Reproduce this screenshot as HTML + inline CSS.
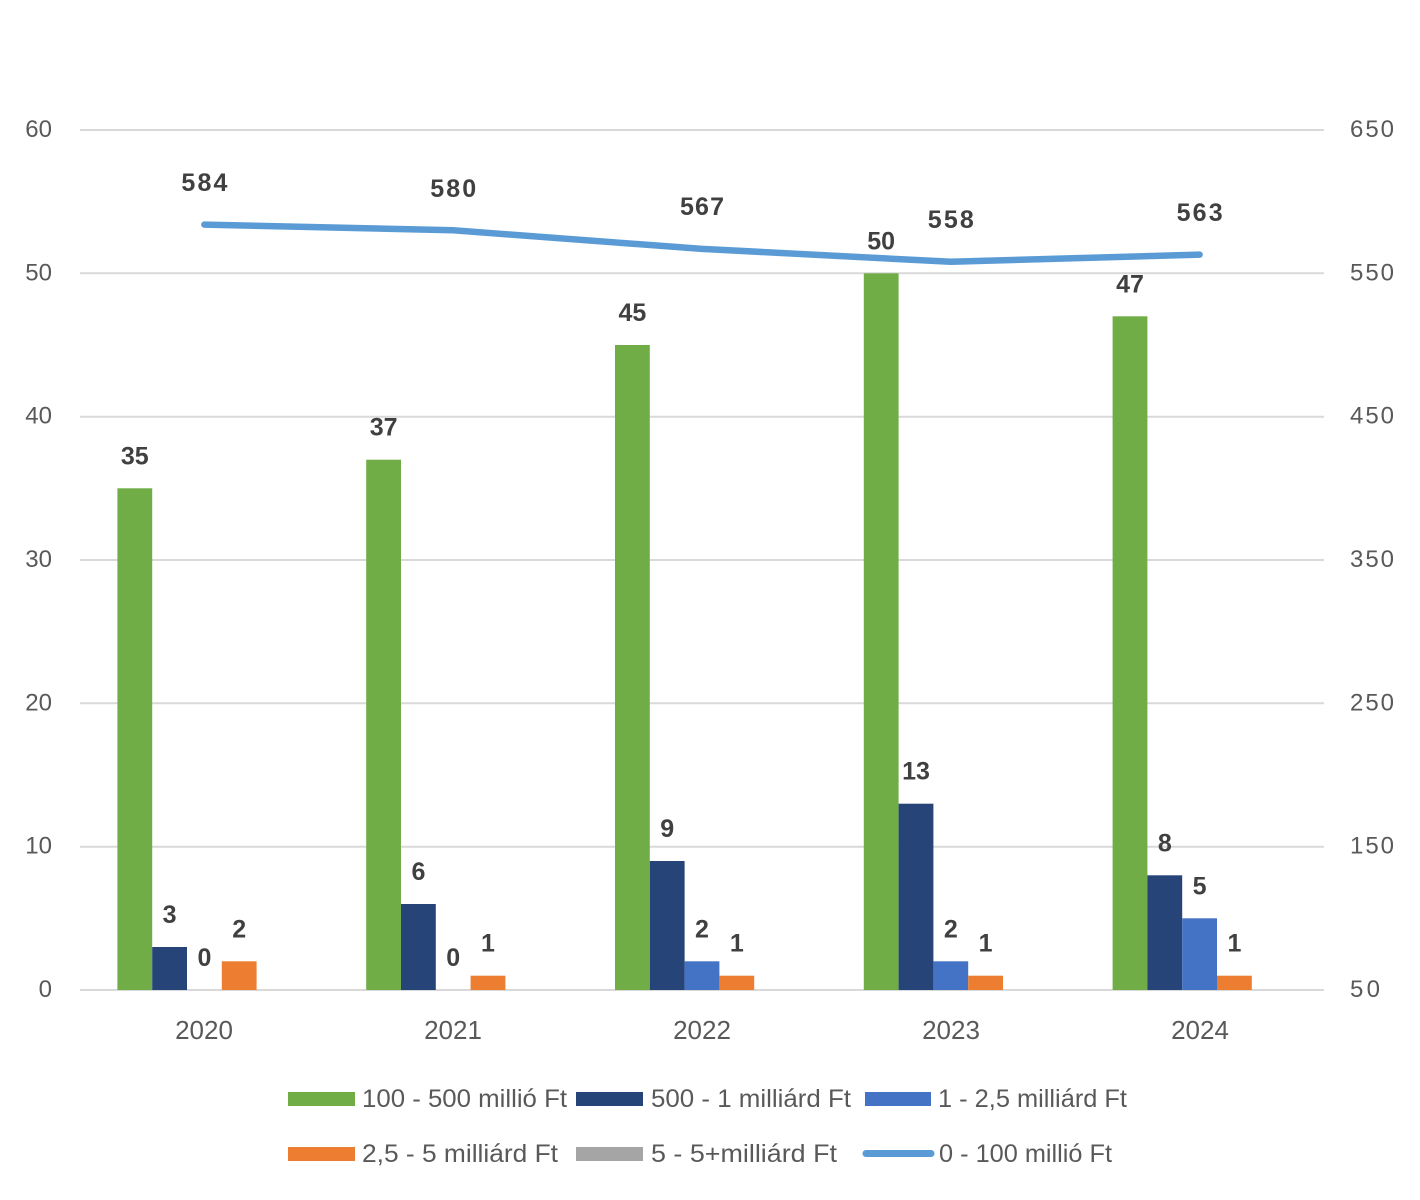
<!DOCTYPE html>
<html>
<head>
<meta charset="utf-8">
<style>
  html,body{margin:0;padding:0;background:#fff;}
  svg{display:block;}
  text{font-family:"Liberation Sans", sans-serif;}
</style>
</head>
<body>
<svg width="1420" height="1200" viewBox="0 0 1420 1200" xmlns="http://www.w3.org/2000/svg">
  <rect width="1420" height="1200" fill="#fff"/>
  <!-- gridlines -->
  <g stroke="#d9d9d9" stroke-width="2">
    <line x1="80" y1="130" x2="1324" y2="130"/>
    <line x1="80" y1="273.3" x2="1324" y2="273.3"/>
    <line x1="80" y1="416.7" x2="1324" y2="416.7"/>
    <line x1="80" y1="560" x2="1324" y2="560"/>
    <line x1="80" y1="703.3" x2="1324" y2="703.3"/>
    <line x1="80" y1="846.7" x2="1324" y2="846.7"/>
    <line x1="80" y1="990" x2="1324" y2="990"/>
  </g>
  <!-- left axis labels -->
  <g fill="#595959" font-size="24" text-anchor="end">
    <text x="52" y="137">60</text>
    <text x="52" y="280.3">50</text>
    <text x="52" y="423.7">40</text>
    <text x="52" y="567">30</text>
    <text x="52" y="710.3">20</text>
    <text x="52" y="853.7">10</text>
    <text x="52" y="997">0</text>
  </g>
  <!-- right axis labels -->
  <g fill="#595959" font-size="24" text-anchor="start">
    <text x="1350" y="137" textLength="44">650</text>
    <text x="1350" y="280.3" textLength="44">550</text>
    <text x="1350" y="423.7" textLength="44">450</text>
    <text x="1350" y="567" textLength="44">350</text>
    <text x="1350" y="710.3" textLength="44">250</text>
    <text x="1350" y="853.7" textLength="44">150</text>
    <text x="1350" y="997" textLength="30">50</text>
  </g>
  <!-- category labels -->
  <g fill="#595959" font-size="26" text-anchor="middle">
    <text x="204" y="1039">2020</text>
    <text x="453" y="1039">2021</text>
    <text x="702" y="1039">2022</text>
    <text x="951" y="1039">2023</text>
    <text x="1200" y="1039">2024</text>
  </g>
  <!-- bars -->
  <g>
    <!-- 2020 -->
    <rect x="117.4" y="488.3" width="34.8" height="501.7" fill="#70AD47"/>
    <rect x="152.2" y="947" width="34.8" height="43" fill="#264478"/>
    <rect x="221.8" y="961.3" width="34.8" height="28.7" fill="#ED7D31"/>
    <!-- 2021 -->
    <rect x="366.2" y="459.7" width="34.8" height="530.3" fill="#70AD47"/>
    <rect x="401" y="904" width="34.8" height="86" fill="#264478"/>
    <rect x="470.6" y="975.7" width="34.8" height="14.3" fill="#ED7D31"/>
    <!-- 2022 -->
    <rect x="615" y="345" width="34.8" height="645" fill="#70AD47"/>
    <rect x="649.8" y="861" width="34.8" height="129" fill="#264478"/>
    <rect x="684.6" y="961.3" width="34.8" height="28.7" fill="#4472C4"/>
    <rect x="719.4" y="975.7" width="34.8" height="14.3" fill="#ED7D31"/>
    <!-- 2023 -->
    <rect x="863.8" y="273.3" width="34.8" height="716.7" fill="#70AD47"/>
    <rect x="898.6" y="803.7" width="34.8" height="186.3" fill="#264478"/>
    <rect x="933.4" y="961.3" width="34.8" height="28.7" fill="#4472C4"/>
    <rect x="968.2" y="975.7" width="34.8" height="14.3" fill="#ED7D31"/>
    <!-- 2024 -->
    <rect x="1112.6" y="316.3" width="34.8" height="673.7" fill="#70AD47"/>
    <rect x="1147.4" y="875.3" width="34.8" height="114.7" fill="#264478"/>
    <rect x="1182.2" y="918.3" width="34.8" height="71.7" fill="#4472C4"/>
    <rect x="1217" y="975.7" width="34.8" height="14.3" fill="#ED7D31"/>
  </g>
  <!-- bar labels -->
  <g fill="#404040" font-size="25" font-weight="bold" text-anchor="middle">
    <text x="134.8" y="464.3">35</text>
    <text x="169.6" y="923">3</text>
    <text x="204.4" y="966">0</text>
    <text x="239.2" y="937.3">2</text>

    <text x="383.6" y="435.7">37</text>
    <text x="418.4" y="880">6</text>
    <text x="453.2" y="966">0</text>
    <text x="488" y="951.7">1</text>

    <text x="632.4" y="321">45</text>
    <text x="667.2" y="837">9</text>
    <text x="702" y="937.3">2</text>
    <text x="736.8" y="951.7">1</text>

    <text x="881.2" y="249.3">50</text>
    <text x="916" y="779.7">13</text>
    <text x="950.8" y="937.3">2</text>
    <text x="985.6" y="951.7">1</text>

    <text x="1130" y="292.3">47</text>
    <text x="1164.8" y="851.3">8</text>
    <text x="1199.6" y="894.3">5</text>
    <text x="1234.4" y="951.7">1</text>
  </g>
  <!-- line series -->
  <polyline points="204.4,224.6 453.2,230.3 702,248.9 950.8,261.8 1199.6,254.6" fill="none" stroke="#5B9BD5" stroke-width="6.5" stroke-linecap="round" stroke-linejoin="round"/>
  <g fill="#404040" font-size="25" font-weight="bold" text-anchor="middle">
    <text x="204.4" y="191" textLength="46">584</text>
    <text x="453.2" y="197" textLength="46">580</text>
    <text x="702" y="215" textLength="44">567</text>
    <text x="950.8" y="228" textLength="46">558</text>
    <text x="1199.6" y="221" textLength="46">563</text>
  </g>
  <!-- legend -->
  <g font-size="25" fill="#595959">
    <rect x="288" y="1092" width="67" height="14" fill="#70AD47"/>
    <text x="362" y="1107" textLength="205" lengthAdjust="spacingAndGlyphs">100 - 500 millió Ft</text>
    <rect x="576" y="1092" width="67" height="14" fill="#264478"/>
    <text x="651" y="1107" textLength="200" lengthAdjust="spacingAndGlyphs">500 - 1 milliárd Ft</text>
    <rect x="865" y="1092" width="66" height="14" fill="#4472C4"/>
    <text x="938" y="1107" textLength="189" lengthAdjust="spacingAndGlyphs">1 - 2,5 milliárd Ft</text>

    <rect x="288" y="1147" width="67" height="14" fill="#ED7D31"/>
    <text x="362" y="1162" textLength="196" lengthAdjust="spacingAndGlyphs">2,5 - 5 milliárd Ft</text>
    <rect x="576" y="1147" width="67" height="14" fill="#A5A5A5"/>
    <text x="651" y="1162" textLength="186" lengthAdjust="spacingAndGlyphs">5 - 5+milliárd Ft</text>
    <line x1="866" y1="1153.5" x2="931" y2="1153.5" stroke="#5B9BD5" stroke-width="7" stroke-linecap="round"/>
    <text x="939" y="1162" textLength="173" lengthAdjust="spacingAndGlyphs">0 - 100 millió Ft</text>
  </g>
</svg>
</body>
</html>
